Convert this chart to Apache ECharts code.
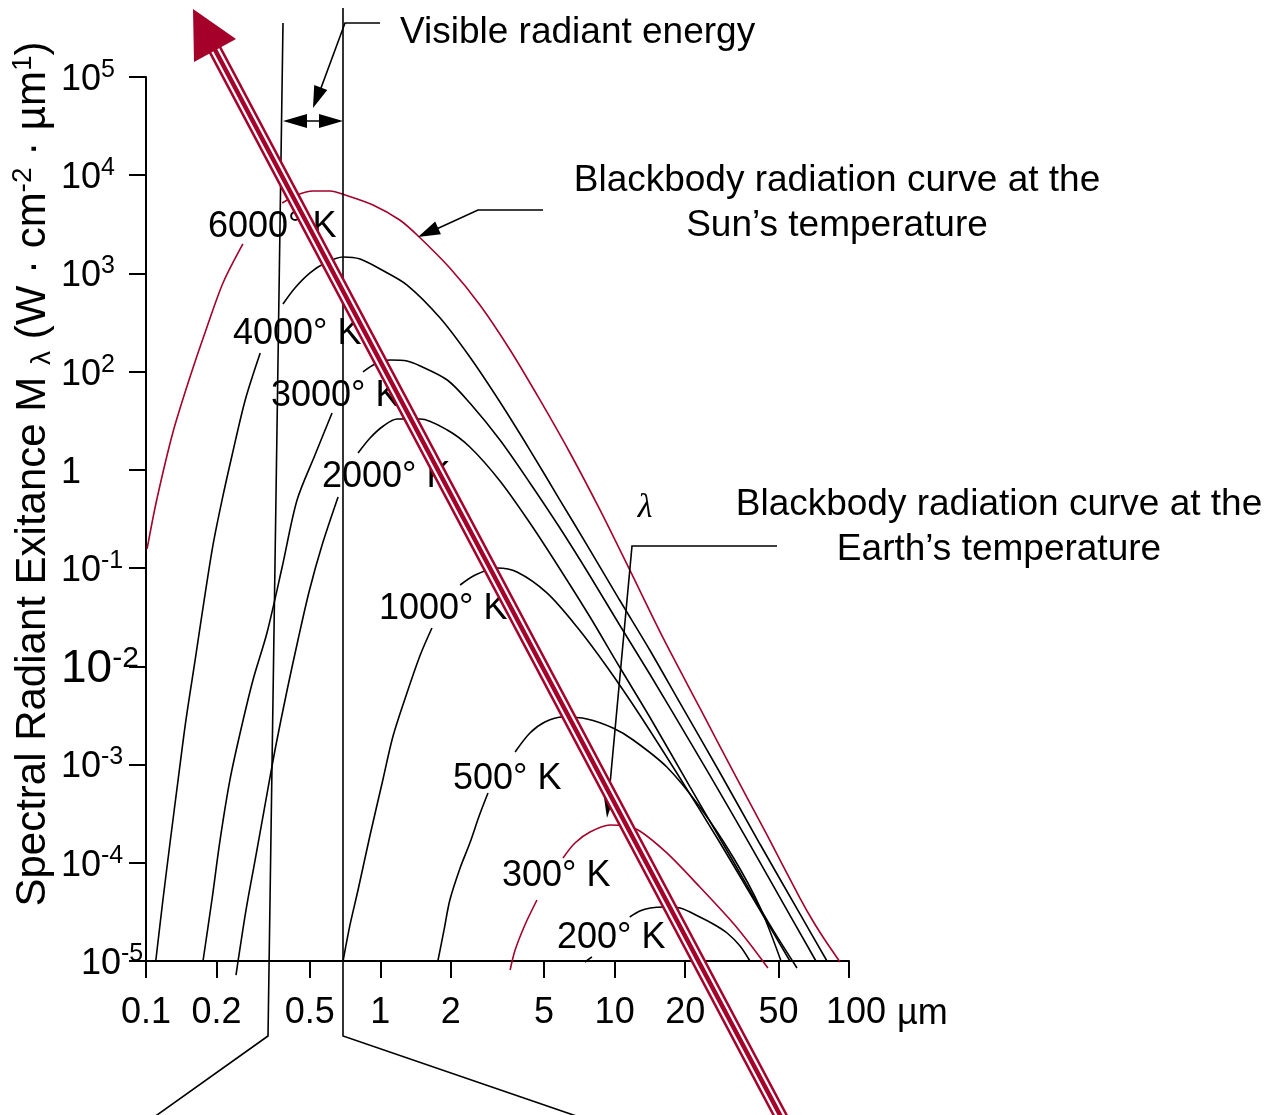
<!DOCTYPE html>
<html><head><meta charset="utf-8">
<script src="https://cdn.jsdelivr.net/npm/echarts@6/dist/echarts.min.js"></script>
<style>html,body{margin:0;padding:0;background:#fff}#c{width:1268px;height:1115px}</style>
</head><body><div id="c"></div>
<script>
// ---- axis ticks ----
const xTicks = [0.1, 0.2, 0.5, 1, 2, 5, 10, 20, 50, 100];           // µm
const xTickLabels = ['0.1', '0.2', '0.5', '1', '2', '5', '10', '20', '50', '100'];
const xUnit = 'µm';
const yTickPos = [-5, -4, -3, -2, -1, 0, 1, 2, 3, 4];               // decade position on the axis
const yTickBase = ['10', '10', '10', '10', '10', '1', '10', '10', '10', '10'];
const yTickExp = ['-5', '-4', '-3', '-2', '-1', '', '2', '3', '4', '5'];

// ---- blackbody curves: [wavelength µm, log10 M (axis position)] ----
const t6000lo = [[0.101,-0.805],[0.111,-0.307],[0.130,0.376],[0.154,0.946],[0.182,1.455],[0.213,1.903],[0.259,2.300]];
const t6000hi = [[0.381,2.717],[0.441,2.799],[0.516,2.839],[0.610,2.839],[0.707,2.799],[0.930,2.697],[1.21,2.544],[1.45,2.381],[1.98,2.055],[2.66,1.679],[3.58,1.221],[4.80,0.712],[6.45,0.172],[8.66,-0.408],[11.6,-1.019],[16.1,-1.711],[23.1,-2.424],[32.0,-3.066],[44.7,-3.717],[61.8,-4.359],[70.2,-4.593],[79.0,-4.786],[91.6,-5.01]];
const t4000lo = [[0.110,-5],[0.118,-4.379],[0.127,-3.768],[0.137,-3.157],[0.148,-2.546],[0.162,-1.935],[0.177,-1.325],[0.193,-0.765],[0.211,-0.307],[0.233,0.152],[0.265,0.712],[0.307,1.190]];
const t4000hi = [[0.384,1.689],[0.432,1.852],[0.501,2.005],[0.581,2.106],[0.693,2.167],[0.819,2.147],[0.997,2.045],[1.30,1.882],[1.80,1.546],[2.41,1.149],[3.24,0.691],[4.35,0.202],[5.84,-0.307],[7.85,-0.816],[10.5,-1.325],[14.2,-1.844],[19.0,-2.373],[28.2,-3.086],[41.7,-3.809],[61.8,-4.521],[80.6,-5]];
const t3000lo = [[0.175,-5],[0.191,-4.379],[0.207,-3.768],[0.228,-3.157],[0.252,-2.679],[0.286,-2.139],[0.328,-1.661],[0.381,-0.989],[0.441,-0.307],[0.526,0.152],[0.622,0.579]];
const t3000hi = [[0.843,0.997],[0.949,1.078],[1.10,1.119],[1.30,1.109],[1.48,1.058],[1.93,0.915],[2.41,0.681],[3.24,0.304],[4.35,-0.133],[5.84,-0.592],[7.85,-1.080],[10.5,-1.579],[14.2,-2.088],[21.0,-2.770],[31.1,-3.463],[46.0,-4.175],[72.3,-5]];
const t2000lo = [[0.242,-5.143],[0.247,-5],[0.267,-4.481],[0.292,-3.972],[0.319,-3.463],[0.355,-2.852],[0.400,-2.241],[0.445,-1.732],[0.496,-1.243],[0.564,-0.765],[0.660,-0.276]];
const t2000hi = [[0.803,0.172],[0.904,0.325],[1.03,0.447],[1.18,0.518],[1.48,0.518],[1.93,0.406],[2.41,0.233],[3.24,-0.113],[4.35,-0.541],[5.84,-1.009],[7.85,-1.498],[10.5,-2.007],[14.2,-2.526],[21.0,-3.229],[31.1,-3.931],[46.0,-4.633],[60.0,-5.071]];
const t1000lo = [[0.693,-5],[0.742,-4.633],[0.803,-4.277],[0.904,-3.717],[1.02,-3.178],[1.13,-2.719],[1.29,-2.292],[1.48,-1.885],[1.66,-1.610]];
const t1000hi = [[2.19,-1.172],[2.54,-1.070],[3.15,-0.999],[3.83,-1.040],[5.14,-1.253],[6.91,-1.600],[9.28,-2.007],[12.8,-2.495],[19.0,-3.137],[28.2,-3.799],[41.7,-4.481],[56.0,-5]];
const t500lo = [[1.76,-5],[1.87,-4.684],[1.98,-4.379],[2.19,-4.053],[2.41,-3.799],[2.64,-3.524],[2.88,-3.290]];
const t500hi = [[3.76,-2.872],[4.35,-2.679],[5.04,-2.567],[6.02,-2.516],[7.62,-2.536],[9.84,-2.628],[12.0,-2.750],[16.7,-3.025],[23.1,-3.432],[32.0,-3.941],[41.7,-4.450],[51.3,-5]];
const t300lo = [[3.58,-5.092],[3.76,-4.888],[4.14,-4.633],[4.66,-4.379]];
const t300hi = [[6.02,-3.951],[6.77,-3.799],[7.85,-3.687],[9.55,-3.615],[11.1,-3.626],[12.8,-3.676],[16.7,-3.900],[23.1,-4.247],[32.0,-4.613],[37.8,-4.827],[45.1,-5.071]];
const t200lo = [[7.47,-5.01],[8.00,-4.959]];
const t200hi = [[11.6,-4.552],[12.8,-4.491],[14.2,-4.460],[16.4,-4.450],[19.0,-4.460],[23.1,-4.552],[26.8,-4.633],[30.2,-4.715],[34.3,-4.847],[37.8,-5]];

const curveLabels = ['6000° K', '4000° K', '3000° K', '2000° K', '1000° K', '500° K', '300° K', '200° K'];

const FONT = '"Liberation Sans", Arial, Helvetica, sans-serif';
const RED = '#a4002a';
const BLACK = '#000';

const curves = [
  [t6000lo, RED], [t6000hi, RED], [t4000lo, BLACK], [t4000hi, BLACK],
  [t3000lo, BLACK], [t3000hi, BLACK], [t2000lo, BLACK], [t2000hi, BLACK],
  [t1000lo, BLACK], [t1000hi, BLACK], [t500lo, BLACK], [t500hi, BLACK],
  [t300lo, RED], [t300hi, RED], [t200lo, BLACK], [t200hi, BLACK]
];

const series = curves.map(([d, c]) => ({
  type: 'line',
  data: d.map(p => [Math.log10(p[0]), p[1]]),
  showSymbol: false, symbol: 'none', smooth: 0.3, clip: false, silent: true, z: 3,
  lineStyle: { color: c, width: 1.6 }
}));

// ---- annotation graphics ----
const G = [];
function pline(points, z, w, color) {
  G.push({ type: 'polyline', z: z || 6, silent: true, shape: { points },
    style: { stroke: color || BLACK, lineWidth: w || 1.6, fill: null, lineCap: 'butt', lineJoin: 'miter' } });
}
function head(tip, from, len, hw, color, z) {
  const dx = tip[0] - from[0], dy = tip[1] - from[1], L = Math.hypot(dx, dy);
  const ux = dx / L, uy = dy / L;
  const bx = tip[0] - ux * len, by = tip[1] - uy * len;
  G.push({ type: 'polygon', z: z || 7, silent: true,
    shape: { points: [[tip[0], tip[1]], [bx - uy * hw, by + ux * hw], [bx + uy * hw, by - ux * hw]] },
    style: { fill: color || BLACK, stroke: null } });
}
function text(str, x, y, size, align) {
  G.push({ type: 'text', z: 8, silent: true, x, y,
    style: { text: str, fontSize: size, fontFamily: FONT, fill: BLACK,
      align: align || 'left', verticalAlign: 'middle' } });
}

// visible band boundaries
pline([[283, 23], [268, 1036], [150, 1120]]);
pline([[343, 8], [343, 1036], [588, 1120]]);
// double arrow
pline([[290, 121], [336, 121]]);
head([283, 121], [343, 121], 24, 7);
head([343, 121], [283, 121], 24, 7);
// visible callout
pline([[380, 23], [345, 23], [321, 88]]);
head([313, 108], [345, 23], 22, 7);
text('Visible radiant energy', 400, 33, 37);
// sun callout
pline([[543, 210], [478, 210], [430, 232]]);
head([418, 237], [478, 210], 22, 7);
text('Blackbody radiation curve at the', 837, 181, 37, 'center');
text('Sun’s temperature', 837, 226, 37, 'center');
// earth callout
pline([[777, 546], [632, 546], [609, 795]]);
head([607, 818], [632, 546], 25, 6);
text('Blackbody radiation curve at the', 999, 505, 37, 'center');
text('Earth’s temperature', 999, 550, 37, 'center');
G.push({ type: 'text', z: 8, silent: true, x: 645, y: 508,
  style: { text: 'λ', fontSize: 34, fontFamily: '"Liberation Serif", "DejaVu Serif", serif', fontStyle: 'italic',
    fill: BLACK, align: 'center', verticalAlign: 'middle' } });
// x unit after the last tick label
text(xUnit, 897, 1014, 36);

// temperature labels
const labelPos = [[208, 227], [233, 334], [271, 396], [322, 477], [379, 609], [453, 779], [502, 876], [557, 938]];
curveLabels.forEach((s, i) => text(s, labelPos[i][0], labelPos[i][1], 36));

// big red arrow (triple band)
const P0 = [213, 46], P1 = [788, 1130];
pline([P0, P1], 20, 14, RED);
pline([P0, P1], 21, 9, '#fff');
pline([P0, P1], 22, 4.5, RED);
G.push({ type: 'polygon', z: 23, silent: true, shape: { points: [[193, 9], [236, 39], [194, 62]] },
  style: { fill: RED, stroke: null } });

// y axis title
G.push({ type: 'text', z: 8, silent: true, x: 33, y: 474, rotation: Math.PI / 2,
  style: {
    text: '{a|Spectral Radiant Exitance M }{sub|λ}{a| (W · cm}{sup|-2}{a| · µm}{sup|1}{a|)}',
    align: 'center', verticalAlign: 'middle', fill: BLACK, fontFamily: FONT, fontSize: 42,
    rich: {
      a: { fontSize: 42, fontFamily: FONT, fill: BLACK },
      sub: { fontSize: 28, fontFamily: FONT, fill: BLACK, padding: [18, 0, 0, 0] },
      sup: { fontSize: 28, fontFamily: FONT, fill: BLACK, padding: [0, 0, 20, 0] }
    }
  } });

const xTickVals = xTicks.map(v => Math.log10(v));

const option = {
  animation: false,
  backgroundColor: '#fff',
  grid: { left: 146, right: 419, top: 77, bottom: 154, containLabel: false },
  xAxis: {
    type: 'value', min: -1.0003, max: 2.0003,
    splitLine: { show: false },
    axisLine: { onZero: false, lineStyle: { color: BLACK, width: 2 } },
    axisTick: { show: true, length: 17, customValues: xTickVals, lineStyle: { color: BLACK, width: 2 } },
    axisLabel: {
      customValues: xTickVals, margin: 34, color: BLACK, fontSize: 36, fontFamily: FONT,
      showMinLabel: true, showMaxLabel: true, hideOverlap: false,
      formatter: v => {
        let i = 0, best = 1e9;
        xTickVals.forEach((t, k) => { if (Math.abs(t - v) < best) { best = Math.abs(t - v); i = k; } });
        return i === xTicks.length - 1 ? '{n|' + xTickLabels[i] + '}' : xTickLabels[i];
      },
      rich: { n: { fontSize: 36, fontFamily: FONT, color: BLACK, padding: [0, 0, 0, 14] } }
    }
  },
  yAxis: {
    type: 'value', min: -5, max: 4, interval: 1,
    splitLine: { show: false },
    axisLine: { onZero: false, lineStyle: { color: BLACK, width: 2 } },
    axisTick: { show: true, length: 17, lineStyle: { color: BLACK, width: 2 } },
    axisLabel: {
      align: 'left', margin: 85, color: BLACK, fontFamily: FONT, fontSize: 36,
      showMinLabel: true, showMaxLabel: true,
      formatter: v => {
        const i = yTickPos.indexOf(Math.round(v));
        if (i < 0) return '';
        const b = yTickBase[i], e = yTickExp[i];
        if (e === '') return '{b|' + b + '}';
        if (e === '-2') return '{B|' + b + '}{S|' + e + '}';
        if (e === '-5') return '{sp| }{b|' + b + '}{s|' + e + '}';
        return '{b|' + b + '}{s|' + e + '}';
      },
      rich: {
        b: { fontSize: 36, fontFamily: FONT, color: BLACK, padding: [6, 0, 0, 0] },
        s: { fontSize: 25, fontFamily: FONT, color: BLACK, padding: [0, 0, 14, 0] },
        B: { fontSize: 46, fontFamily: FONT, color: BLACK, padding: [6, 0, 0, 0] },
        S: { fontSize: 30, fontFamily: FONT, color: BLACK, padding: [0, 0, 16, 0] },
        sp: { width: 20, fontSize: 36 }
      }
    }
  },
  series,
  graphic: { elements: G }
};

const chart = echarts.init(document.getElementById('c'), null, { renderer: 'canvas' });
chart.setOption(option);
</script>
</body></html>
